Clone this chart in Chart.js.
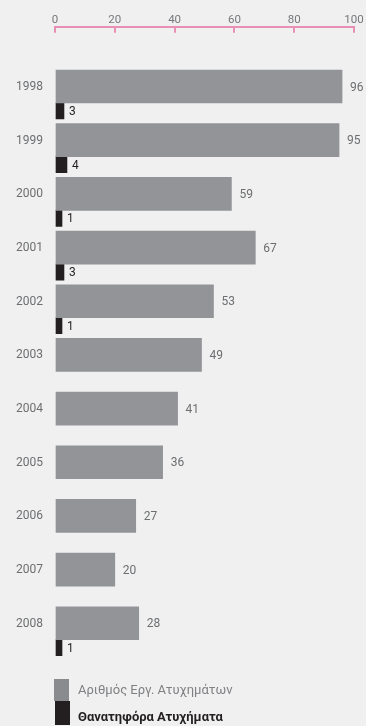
<!DOCTYPE html>
<html>
<head>
<meta charset="utf-8">
<script src="https://cdn.jsdelivr.net/npm/chart.js@4.4.1/dist/chart.umd.min.js"></script>
<style>
  html, body { margin: 0; padding: 0; background: #eff0ef; }
  .wrap { position: relative; width: 366px; height: 726px; }
  .legend { position: absolute; left: 54px; top: 679px; font-family: Roboto, sans-serif; font-size: 13px; }
  .legend .item { position: relative; height: 22px; line-height: 22px; padding-left: 24px; }
  .legend .box { position: absolute; left: 0; top: 0; width: 15px; height: 22px; }
  .legend .item + .item { height: 24px; line-height: 32px; }
  .legend .item + .item .box { left: 1px; height: 24px; }
</style>
</head>
<body>
<div class="wrap">
  <canvas id="chart"></canvas>
  <div class="legend">
    <div class="item" style="color:#808184"><span class="box" style="background:#8a8b8e"></span>Αριθμός Εργ. Ατυχημάτων</div>
    <div class="item" style="color:#231f20;font-weight:bold"><span class="box" style="background:#231f20"></span>Θανατηφόρα Ατυχήματα</div>
  </div>
</div>
<script>
const years = ['1998', '1999', '2000', '2001', '2002', '2003', '2004', '2005', '2006', '2007', '2008'];
const accidents = [96, 95, 59, 67, 53, 49, 41, 36, 27, 20, 28];
const fatal = [3, 4, 1, 3, 1, null, null, null, null, null, 1];
const xTicks = [0, 20, 40, 60, 80, 100];
const series = [accidents, fatal];

const grayBar = '#939497';
const darkBar = '#231f20';
const pink = '#e88fb6';

// value labels next to each bar end
const valueLabels = {
    id: 'valueLabels',
    afterDatasetsDraw(chart) {
        const ctx = chart.ctx;
        ctx.save();
        ctx.font = '12px Roboto, sans-serif';
        ctx.textBaseline = 'middle';
        ctx.textAlign = 'left';
        series.forEach((values, di) => {
            const meta = chart.getDatasetMeta(di);
            meta.data.forEach((bar, i) => {
                const v = values[i];
                if (v == null) return;
                ctx.fillStyle = di === 0 ? '#6d6e71' : '#231f20';
                ctx.fillText(String(v), bar.x + (di === 0 ? 8 : 5), bar.y + 1);
            });
        });
        ctx.restore();
    }
};

const toPoints = arr => arr.map((v, i) => ({ x: v, y: i }));

new Chart(document.getElementById('chart'), {
    type: 'bar',
    data: {
        datasets: [{
            label: 'Αριθμός Εργ. Ατυχημάτων',
            data: toPoints(accidents),
            backgroundColor: grayBar,
            barThickness: 33,
        }, {
            label: 'Θανατηφόρα Ατυχήματα',
            data: toPoints(fatal),
            backgroundColor: darkBar,
            barThickness: 16,
            minBarLength: 7,
        }],
    },
    options: {
        indexAxis: 'y',
        responsive: true,
        maintainAspectRatio: false,
        animation: false,
        layout: { padding: { top: 7, right: 12, bottom: 61, left: 0 } },
        plugins: { legend: { display: false }, tooltip: { enabled: false } },
        scales: {
            x: {
                position: 'top',
                min: 0,
                max: 100,
                afterBuildTicks: axis => { axis.ticks = xTicks.map(v => ({ value: v })); },
                afterFit: axis => { axis.paddingLeft = 0; axis.paddingRight = 0; },
                border: { color: pink, width: 2 },
                grid: { drawOnChartArea: false, color: pink, lineWidth: 2, tickLength: -6 },
                ticks: { color: '#77787b', padding: 6, font: { family: 'Roboto', size: 11.5 } },
            },
            y: {
                type: 'linear',
                reverse: true,
                offset: false,
                min: -1.42,
                max: 10.47,
                afterBuildTicks: axis => { axis.ticks = years.map((_, i) => ({ value: i })); },
                afterFit: axis => { axis.width = 55; },
                border: { display: false },
                grid: { display: false, drawTicks: false },
                ticks: {
                    color: '#6d6e71',
                    padding: 12,
                    labelOffset: -16,
                    font: { family: 'Roboto', size: 12 },
                    callback: v => years[v],
                },
            },
        },
    },
    plugins: [valueLabels],
});
</script>
</body>
</html>
